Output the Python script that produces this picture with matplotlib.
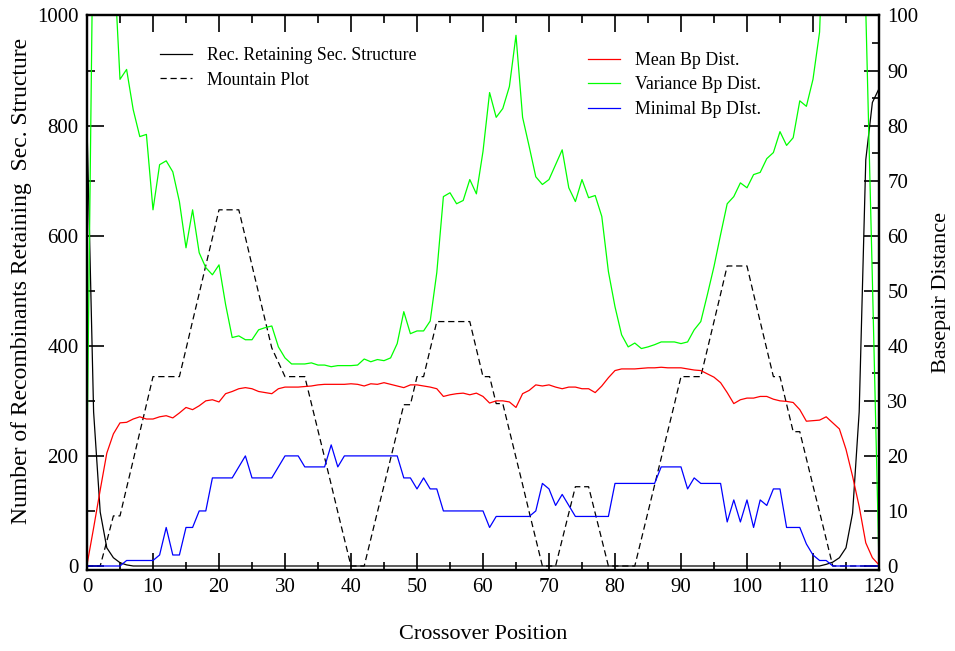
import matplotlib
matplotlib.use("Agg")
import matplotlib.pyplot as plt
import numpy as np

plt.rcParams['font.family'] = ['Liberation Serif', 'DejaVu Serif']

pos = np.arange(121)

# recombinants retaining the secondary structure (left axis)
retained = [800, 280, 98, 33, 15, 6, 2] + [0] * 105 + [3, 7, 15, 33, 96, 280, 738, 842, 867]

# mountain plot of the reference structure (left axis)
mountain = [0, 0, 0, 45, 91, 91, 142, 192, 243, 293, 344, 344, 344, 344, 344,
            394, 445, 495, 546, 596, 647, 647, 647, 647, 597, 546, 496, 446, 396, 370,
            344, 344, 344, 344, 295, 246, 197, 148, 98, 49, 0, 0, 0, 49, 98,
            146, 195, 244, 293, 293, 344, 344, 394, 444, 444, 444, 444, 444, 444, 394,
            344, 344, 295, 295, 246, 197, 148, 98, 49, 0, 0, 0, 48, 96, 144,
            144, 144, 96, 48, 0, 0, 0, 0, 0, 49, 98, 147, 196, 245, 294,
            344, 344, 344, 344, 394, 444, 494, 545, 545, 545, 545, 494, 444, 394, 344,
            344, 294, 244, 244, 195, 146, 98, 49, 0, 0, 0, 0, 0, 0, 0, 0]

# base pair distances (right axis)
mean_bp = [0.2, 6.9, 13.8, 20.5, 24, 26, 26.1, 26.7, 27.1, 26.7, 26.7, 27.1, 27.3, 26.9, 27.8,
           28.8, 28.4, 29.1, 30, 30.2, 29.8, 31.3, 31.7, 32.2, 32.4, 32.2, 31.7, 31.5, 31.3, 32.2,
           32.5, 32.5, 32.5, 32.6, 32.7, 32.9, 33, 33, 33, 33, 33.1, 33, 32.7, 33.1, 33,
           33.3, 33, 32.7, 32.4, 32.9, 32.9, 32.7, 32.5, 32.2, 30.8, 31.1, 31.3, 31.4, 31.1, 31.4,
           30.8, 29.6, 30, 30, 29.8, 28.8, 31.3, 31.9, 32.9, 32.7, 32.9, 32.5, 32.2, 32.5, 32.5,
           32.2, 32.2, 31.5, 32.7, 34.2, 35.5, 35.8, 35.8, 35.8, 35.9, 36, 36, 36.1, 36, 36,
           36, 35.8, 35.6, 35.5, 34.9, 34.3, 33.3, 31.5, 29.5, 30.2, 30.5, 30.5, 30.8, 30.8, 30.3,
           30, 29.9, 29.7, 28.4, 26.3, 26.4, 26.5, 27.1, 26, 24.9, 21.2, 16.3, 10.8, 4.2, 1.5, 0.2]

var_bp = [20, 125, 140, 130, 112, 88.4, 90.2, 82.9, 78, 78.4, 64.7, 72.9, 73.6, 71.6, 66.2,
          57.8, 64.7, 56.9, 54.2, 52.9, 54.7, 47.5, 41.5, 41.8, 41.1, 41.1, 42.9, 43.3, 43.6, 39.8,
          37.8, 36.7, 36.7, 36.7, 36.9, 36.5, 36.5, 36.2, 36.4, 36.4, 36.4, 36.5, 37.6, 37.1, 37.5,
          37.3, 37.8, 40.4, 46.2, 42.2, 42.7, 42.7, 44.5, 53.3, 67.1, 67.8, 65.8, 66.4, 70.2, 67.6,
          75.3, 86, 81.5, 83.1, 87.1, 96.4, 81.5, 76.2, 70.7, 69.3, 70.2, 72.9, 75.6, 68.7, 66.2,
          70.2, 66.9, 67.3, 63.5, 53.5, 47.1, 42, 39.8, 40.5, 39.5, 39.8, 40.2, 40.7, 40.7, 40.7,
          40.4, 40.7, 42.9, 44.4, 49.3, 54.4, 60.2, 65.8, 67.1, 69.6, 68.7, 71.1, 71.5, 74, 75.1,
          78.9, 76.4, 77.8, 84.5, 83.5, 88.4, 97, 130, 150, 160, 150, 140, 130, 101, 52, 0.5]

min_bp = [0, 0, 0, 0, 0, 0, 1, 1, 1, 1, 1, 2, 7, 2, 2,
          7, 7, 10, 10, 16, 16, 16, 16, 18, 20, 16, 16, 16, 16, 18,
          20, 20, 20, 18, 18, 18, 18, 22, 18, 20, 20, 20, 20, 20, 20,
          20, 20, 20, 16, 16, 14, 16, 14, 14, 10, 10, 10, 10, 10, 10,
          10, 7, 9, 9, 9, 9, 9, 9, 10, 15, 14, 11, 13, 11, 9,
          9, 9, 9, 9, 9, 15, 15, 15, 15, 15, 15, 15, 18, 18, 18,
          18, 14, 16, 15, 15, 15, 15, 8, 12, 8, 12, 7, 12, 11, 14,
          14, 7, 7, 7, 4, 2, 1, 1, 0, 0, 0, 0, 0, 0, 0, 0]

fig = plt.figure(figsize=(9.55, 6.51), dpi=100)
ax = fig.add_axes([0.0911, 0.1244, 0.8293, 0.8518])
ax2 = ax.twinx()

l1, = ax.plot(pos, retained, color="black", lw=0.9, label="Rec. Retaining Sec. Structure")
l2, = ax.plot(pos, mountain, color="black", lw=0.9, dashes=(5, 3), label="Mountain Plot")

l3, = ax2.plot(pos, mean_bp, color="#ff0000", lw=0.9, label="Mean Bp Dist.")
l4, = ax2.plot(pos, var_bp, color="#00ff00", lw=0.9, label="Variance Bp Dist.")
l5, = ax2.plot(pos, min_bp, color="#0000ff", lw=0.9, label="Minimal Bp DIst.")

ax.set_xlim(0, 120)
ax.set_ylim(-7.3, 1000)
ax2.set_ylim(-0.73, 100)

ax.set_xticks(np.arange(0, 121, 10))
ax.set_xticks(np.arange(0, 121, 5), minor=True)
ax.set_yticks(np.arange(0, 1001, 200))
ax.set_yticks(np.arange(0, 1001, 100), minor=True)
ax2.set_yticks(np.arange(0, 101, 10))
ax2.set_yticks(np.arange(0, 101, 5), minor=True)

ax.tick_params(which="both", direction="in", top=True, right=False, width=1.2, labelsize=15, pad=6)
ax.tick_params(which="major", length=12)
ax.tick_params(which="minor", length=6)
ax2.tick_params(which="both", direction="in", width=1.2, labelsize=15, pad=6)
ax2.tick_params(which="major", length=11)
ax2.tick_params(which="minor", length=5)

for a in (ax, ax2):
    for sp in a.spines.values():
        sp.set_linewidth(1.6)

ax.set_xlabel("Crossover Position", fontsize=16, labelpad=20)
ax.set_ylabel("Number of Recombinants Retaining  Sec. Structure", fontsize=17, labelpad=4)
ax.yaxis.label.set_y(0.522)
ax2.set_ylabel("Basepair Distance", fontsize=16, labelpad=10)

leg1 = fig.legend(handles=[l1, l2], loc="upper left", bbox_to_anchor=(0.160, 0.938),
                  frameon=False, fontsize=12.8, handlelength=1.8, handletextpad=0.85,
                  labelspacing=0.4, borderaxespad=0)
leg2 = fig.legend(handles=[l3, l4, l5], loc="upper left", bbox_to_anchor=(0.608, 0.931),
                  frameon=False, fontsize=12.8, handlelength=1.8, handletextpad=0.85,
                  labelspacing=0.42, borderaxespad=0)

fig.savefig("out.png", dpi=100)
